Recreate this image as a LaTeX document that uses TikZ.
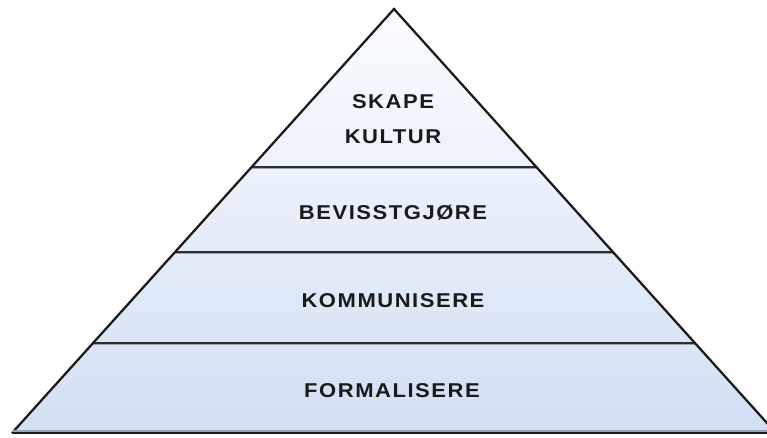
\documentclass[tikz,border=0pt]{standalone}
\usepackage{fontspec}
\setmainfont{Liberation Sans}
\newfontfamily\levelfont[LetterSpace=7]{Liberation Sans}
\usetikzlibrary{calc}
\definecolor{edgecol}{HTML}{1A1A1A}
\definecolor{rulecol}{HTML}{2E2E2E}
\definecolor{shadowcol}{HTML}{9AA3B0}
\definecolor{topfill}{HTML}{FBFCFF}
\definecolor{bottomfill}{HTML}{D2DFF3}
\definecolor{labelcol}{HTML}{1A1A1A}
\tikzset{
  level/.style={font=\levelfont\fontsize{15pt}{20pt}\selectfont\bfseries,
    text=labelcol, align=center, inner sep=0pt, xscale=1.1},
  divider/.style={draw=rulecol, line width=1.5pt},
  divshadow/.style={draw=shadowcol, line width=1pt},
  side/.style={draw=edgecol, line width=1.7pt, line join=miter},
}
\begin{document}
\begin{tikzpicture}[x=0.75pt,y=-0.75pt]
  \useasboundingbox (0,0) rectangle (767,437);
  \clip (0,0) rectangle (767,437);
  % corners of the pyramid
  \coordinate (apex) at (394,9);
  \coordinate (bl) at (12,433);
  \coordinate (br) at (776,433);
  % ends of the dividing lines on both sides
  \coordinate (l1) at ($(apex)!0.3726!(bl)$);
  \coordinate (r1) at ($(apex)!0.3726!(br)$);
  \coordinate (l2) at ($(apex)!0.5731!(bl)$);
  \coordinate (r2) at ($(apex)!0.5731!(br)$);
  \coordinate (l3) at ($(apex)!0.7877!(bl)$);
  \coordinate (r3) at ($(apex)!0.7877!(br)$);
  % body with a soft vertical gradient
  \shade[top color=topfill, bottom color=bottomfill] (apex) -- (bl) -- (br) -- cycle;
  % dividing lines with a faint shadow beneath
  \foreach \a/\b in {l1/r1,l2/r2,l3/r3}{
    \draw[divshadow] ($(\a)+(0,1.8)$) -- ($(\b)+(0,1.8)$);
    \draw[divider] (\a) -- (\b);
  }
  % outline
  \draw[side] (bl) -- (apex) -- (br);
  \draw[draw=shadowcol, line width=1pt] ($(bl)+(0,-2)$) -- ($(br)+(0,-2)$);
  \draw[draw=edgecol, line width=2pt] (bl) -- (br);
  % level labels
  \node[level] (kultur) at (393,119) {SKAPE\\[6.5pt]KULTUR};
  \node[level] (bevisst) at (393,213) {BEVISSTGJØRE};
  \node[level] (komm) at (393,301) {KOMMUNISERE};
  \node[level] (formal) at (392,391) {FORMALISERE};
\end{tikzpicture}
\end{document}
